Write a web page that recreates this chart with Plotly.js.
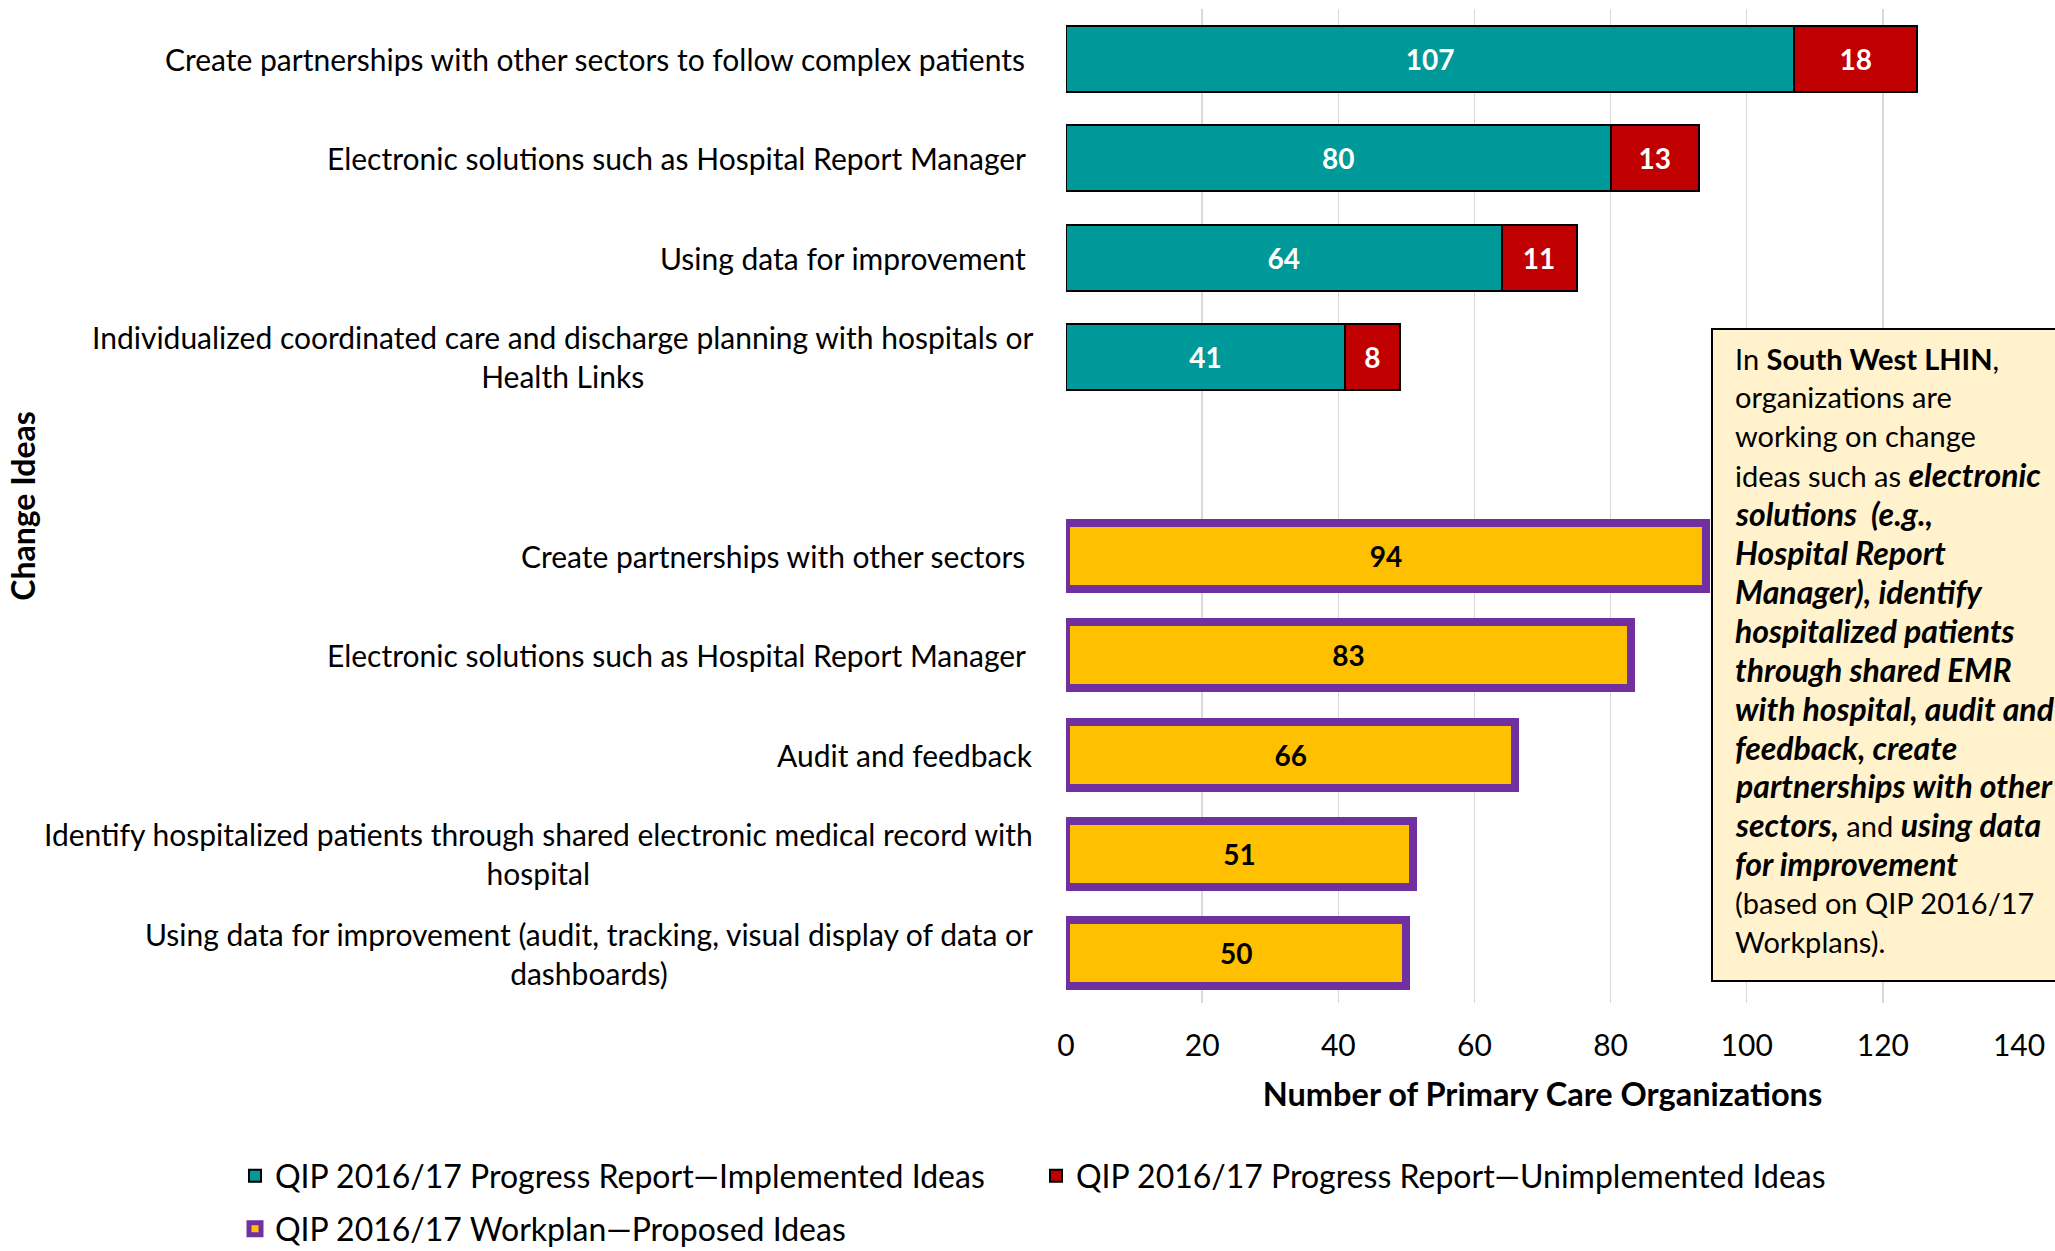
<!DOCTYPE html>
<html>
<head>
<meta charset="utf-8">
<script src="https://cdn.plot.ly/plotly-3.0.1.min.js"></script>
<style>html,body{margin:0;padding:0;background:#fff;}#chart{width:2055px;height:1251px;}</style>
</head>
<body>
<div id="chart"></div>
<script>
// ---- data ----
const progressIdeas = [
  "Create partnerships with other sectors to follow complex patients\u00a0",
  "Electronic solutions such as Hospital Report Manager\u00a0",
  "Using data for improvement\u00a0",
  "Individualized coordinated care and discharge planning with hospitals or<br>Health Links"
];
const implementedIdeas = [107, 80, 64, 41];
const unimplementedIdeas = [18, 13, 11, 8];

const workplanIdeas = [
  "Create partnerships with other sectors\u00a0",
  "Electronic solutions such as Hospital Report Manager\u00a0",
  "Audit and feedback",
  "Identify hospitalized patients through shared electronic medical record with<br>hospital",
  "Using data for improvement (audit, tracking, visual display of data or<br>dashboards)"
];
const proposedIdeas = [94, 83, 66, 51, 50];

const seriesNames = [
  "QIP 2016/17 Progress Report\u2014Implemented Ideas",
  "QIP 2016/17 Progress Report\u2014Unimplemented Ideas",
  "QIP 2016/17 Workplan\u2014Proposed Ideas"
];
const xTicks = [0, 20, 40, 60, 80, 100, 120, 140];

const bi = s => '<span style="font-size:32px"><b><i>' + s + '</i></b></span>';
const noteLines = [
  "In <b>South West LHIN</b>,",
  "organizations are",
  "working on change",
  "ideas such as " + bi("electronic"),
  bi("solutions \u00a0(e.g.,"),
  bi("Hospital Report"),
  bi("Manager), identify"),
  bi("hospitalized patients"),
  bi("through shared EMR"),
  bi("with hospital, audit and"),
  bi("feedback, create"),
  bi("partnerships with other"),
  bi("sectors,") + " and " + bi("using data"),
  bi("for improvement"),
  "(based on QIP 2016/17",
  "Workplans)."
];

// ---- positions (category slots: progress block, one empty slot, workplan block) ----
const progressPos = progressIdeas.map((_, i) => i);
const workplanPos = workplanIdeas.map((_, i) => progressIdeas.length + 1 + i);

// ---- geometry helpers ----
const W = 2055, H = 1251;
const M = {l: 1066, r: 36, t: 9, b: 248};
const PW = W - M.l - M.r, PH = H - M.t - M.b;
const xp = px => (px - M.l) / PW;
const yp = py => (H - M.b - py) / PH;

const FONT = "Lato, 'Open Sans', sans-serif";
const barWidth = 0.664;

const traces = [
  {
    type: 'bar', orientation: 'h', name: seriesNames[0],
    x: implementedIdeas, y: progressPos, width: barWidth,
    marker: {color: '#009999', line: {color: '#000000', width: 2}},
    text: implementedIdeas.map(String), textposition: 'inside', insidetextanchor: 'middle',
    textangle: 0, constraintext: 'none',
    insidetextfont: {family: FONT, size: 28, color: '#ffffff', weight: 700},
    hoverinfo: 'skip', legend: 'legend'
  },
  {
    type: 'bar', orientation: 'h', name: seriesNames[1],
    x: unimplementedIdeas, y: progressPos, width: barWidth,
    marker: {color: '#C00000', line: {color: '#000000', width: 2}},
    text: unimplementedIdeas.map(String), textposition: 'inside', insidetextanchor: 'middle',
    textangle: 0, constraintext: 'none',
    insidetextfont: {family: FONT, size: 28, color: '#ffffff', weight: 700},
    hoverinfo: 'skip', legend: 'legend2'
  },
  {
    type: 'bar', orientation: 'h', name: seriesNames[2],
    x: proposedIdeas, y: workplanPos, width: barWidth,
    marker: {color: '#FFC000', line: {color: '#7030A0', width: 8}},
    text: proposedIdeas.map(String), textposition: 'inside', insidetextanchor: 'middle',
    textangle: 0, constraintext: 'none',
    insidetextfont: {family: FONT, size: 28, color: '#000000', weight: 700},
    hoverinfo: 'skip', legend: 'legend3'
  }
];

const annotations = [];
// category labels (centered multi-line, right edge next to the axis)
progressIdeas.forEach((lab, i) => annotations.push({
  text: lab, xref: 'paper', x: 0, xanchor: 'right', xshift: -31,
  yref: 'y', y: progressPos[i], yanchor: 'middle', align: 'center',
  showarrow: false, font: {family: FONT, size: 30, color: '#000000'}
}));
workplanIdeas.forEach((lab, i) => annotations.push({
  text: lab, xref: 'paper', x: 0, xanchor: 'right', xshift: -31,
  yref: 'y', y: workplanPos[i], yanchor: 'middle', align: 'center',
  showarrow: false, font: {family: FONT, size: 30, color: '#000000'}
}));
// note text lines
noteLines.forEach((ln, i) => annotations.push({
  text: ln, xref: 'paper', x: xp(1733), xanchor: 'left',
  yref: 'paper', y: yp(358 + i * 38.9), yanchor: 'middle', align: 'left',
  showarrow: false, font: {family: FONT, size: 29, color: '#000000'}
}));

const legendBase = {
  orientation: 'h', xref: 'container', yref: 'container', xanchor: 'left', yanchor: 'middle',
  font: {family: FONT, size: 32, color: '#000000'},
  bgcolor: 'rgba(0,0,0,0)', borderwidth: 0
};

const layout = {
  width: W, height: H,
  margin: M,
  paper_bgcolor: '#ffffff', plot_bgcolor: '#ffffff',
  barmode: 'stack',
  font: {family: FONT, color: '#000000'},
  xaxis: {
    range: [0, 140], tickvals: xTicks, ticktext: xTicks.map(String),
    showgrid: true, gridcolor: '#D9D9D9', gridwidth: 1.5,
    zeroline: false, showline: false, ticks: '',
    ticklabelstandoff: 22,
    tickfont: {family: FONT, size: 30, color: '#000000'},
    title: {text: '<b>Number of Primary Care Organizations</b>', standoff: 22,
            font: {family: FONT, size: 32.5, color: '#000000'}},
    automargin: false, fixedrange: true
  },
  yaxis: {
    range: [workplanPos[workplanPos.length - 1] + 0.5, -0.5],
    showgrid: false, zeroline: false, showline: false, showticklabels: false, ticks: '',
    title: {text: '<b>Change Ideas</b>', standoff: 1019,
            font: {family: FONT, size: 32, color: '#000000'}},
    automargin: false, fixedrange: true
  },
  legend: Object.assign({}, legendBase, {x: 235 / W, y: 1 - 1176 / H}),
  legend2: Object.assign({}, legendBase, {x: 1036 / W, y: 1 - 1176 / H}),
  legend3: Object.assign({}, legendBase, {x: 235 / W, y: 1 - 1229 / H}),
  shapes: [{
    type: 'rect', xref: 'paper', yref: 'paper',
    x0: xp(1712), x1: xp(2075), y0: yp(981), y1: yp(329),
    fillcolor: '#FFF2CC', line: {color: '#000000', width: 2}, layer: 'above'
  }],
  annotations: annotations,
  showlegend: true
};

Plotly.newPlot('chart', traces, layout, {displayModeBar: false, staticPlot: true});
</script>
</body>
</html>
